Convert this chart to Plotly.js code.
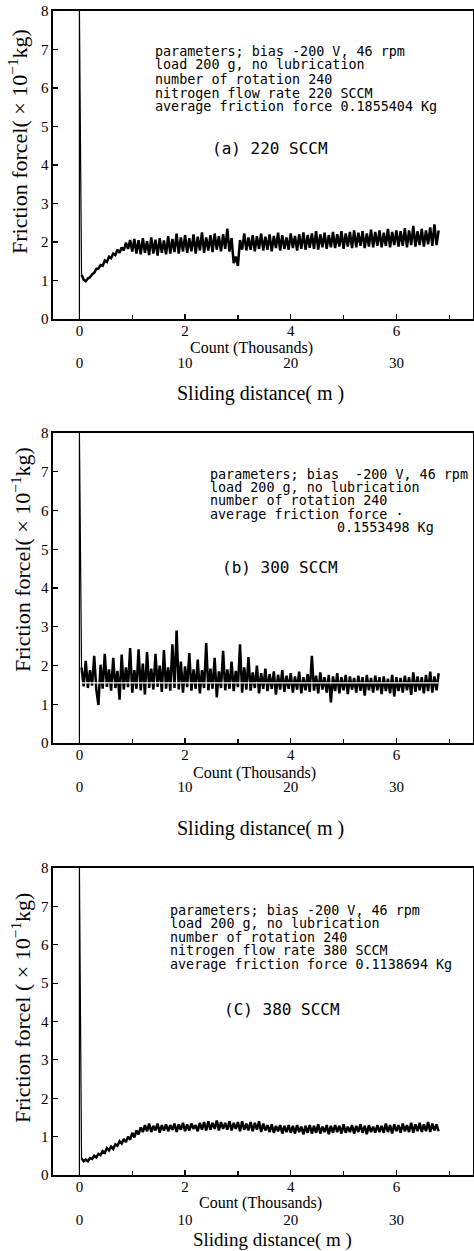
<!DOCTYPE html>
<html>
<head>
<meta charset="utf-8">
<script src="https://cdn.plot.ly/plotly-3.0.1.min.js"></script>
<style>html,body{margin:0;padding:0;background:#fff;}#chart{width:474px;height:1251px;}</style>
</head>
<body>
<div id="chart"></div>
<script>
// ---- data ----
// count axis in thousands, sampled every 0.04 thousand counts starting at 0.04
const countStep = 0.04;
const countTicks = [0, 2, 4, 6];
const countLabels = ['0', '2', '4', '6'];
const distTicks = [0, 10, 20, 30];
const distLabels = ['0', '10', '20', '30'];
const metresPerThousand = 5;

// start-up spike at count 0 (count, friction)
const spikeX = [0, 0];
const spikeY = [0, 8];

// (a) 220 SCCM
const frictionA = [
 1.15,1.02,0.98,1.05,1.08,1.16,1.20,1.30,1.31,1.40,
 1.38,1.52,1.48,1.62,1.58,1.70,1.66,1.80,1.72,1.86,
 1.78,1.98,1.82,2.05,1.75,2.08,1.70,2.05,1.68,2.10,
 1.72,2.02,1.66,2.12,1.70,2.06,1.65,2.10,1.72,2.04,
 1.68,2.15,1.70,2.08,1.74,2.22,1.70,2.12,1.75,2.18,
 1.72,2.10,1.76,2.20,1.70,2.14,1.78,2.25,1.72,2.12,
 1.78,2.18,1.74,2.22,1.80,2.15,1.76,2.20,1.82,2.35,
 1.75,2.10,1.45,1.62,1.38,2.05,1.80,2.22,1.78,2.12,
 1.80,2.18,1.76,2.15,1.82,2.22,1.78,2.14,1.80,2.20,
 1.76,2.16,1.84,2.24,1.78,2.18,1.82,2.12,1.80,2.22,
 1.84,2.16,1.78,2.20,1.82,2.25,1.80,2.18,1.85,2.22,
 1.82,2.28,1.80,2.20,1.86,2.24,1.82,2.18,1.86,2.26,
 1.84,2.20,1.88,2.28,1.82,2.22,1.88,2.26,1.84,2.30,
 1.86,2.24,1.90,2.28,1.84,2.22,1.88,2.32,1.86,2.26,
 1.90,2.30,1.86,2.24,1.90,2.34,1.86,2.26,1.92,2.30,
 1.88,2.28,1.90,2.36,1.86,2.30,1.92,2.42,1.88,2.28,
 1.92,2.34,1.88,2.30,1.94,2.38,1.90,2.46,1.92,2.30
];

// (b) 300 SCCM
const frictionB = [
 1.95,1.46,2.12,1.42,1.88,1.48,2.25,1.38,0.98,2.02,
 1.40,2.30,1.45,1.90,1.35,2.20,1.42,1.86,1.12,2.28,
 1.38,1.95,1.44,2.45,1.30,1.88,1.40,2.42,1.36,2.05,
 1.25,2.35,1.42,1.92,1.38,2.30,1.45,2.00,1.32,2.40,
 1.40,1.95,1.35,2.55,1.42,2.90,1.38,2.10,1.30,1.98,
 1.44,2.32,1.35,1.90,1.40,2.15,1.28,1.88,1.42,2.58,
 1.36,1.92,1.40,2.20,1.18,1.85,1.42,2.38,1.36,1.90,
 1.40,2.10,1.34,1.86,1.44,2.55,1.30,1.95,1.38,2.22,
 1.35,1.82,1.42,2.00,1.28,1.80,1.40,1.92,1.34,1.78,
 1.40,1.85,1.25,1.76,1.38,1.88,1.32,1.74,1.40,1.80,
 1.30,1.72,1.38,1.84,1.28,1.70,1.36,1.78,1.32,2.25,
 1.35,1.74,1.28,1.82,1.38,1.70,1.30,1.76,1.05,1.72,
 1.34,1.80,1.28,1.70,1.36,1.76,1.26,1.72,1.38,1.68,
 1.30,1.74,1.35,1.70,1.22,1.76,1.36,1.68,1.30,1.74,
 1.36,1.70,1.26,1.72,1.34,1.66,1.28,1.76,1.20,1.70,
 1.34,1.68,1.30,1.74,1.36,1.70,1.24,1.82,1.32,1.72,
 1.36,1.70,1.28,1.76,1.34,1.84,1.30,1.72,1.36,1.80
];
// average friction force 0.1553498 kg = 1.553498 x10^-1 kg
const averageB = 1.553498;

// (c) 380 SCCM
const frictionC = [
 0.44,0.36,0.40,0.36,0.44,0.42,0.50,0.46,0.55,0.52,
 0.62,0.58,0.70,0.64,0.74,0.68,0.80,0.76,0.88,0.82,
 0.94,0.86,1.00,0.92,1.10,0.98,1.16,1.06,1.24,1.12,
 1.30,1.14,1.34,1.12,1.28,1.16,1.34,1.10,1.30,1.16,
 1.32,1.14,1.30,1.18,1.34,1.12,1.32,1.18,1.36,1.14,
 1.32,1.16,1.34,1.20,1.30,1.14,1.36,1.18,1.38,1.16,
 1.40,1.18,1.36,1.20,1.42,1.16,1.38,1.20,1.36,1.18,
 1.40,1.16,1.36,1.20,1.38,1.14,1.40,1.18,1.34,1.16,
 1.38,1.14,1.36,1.18,1.40,1.12,1.34,1.16,1.30,1.12,
 1.32,1.10,1.28,1.14,1.30,1.08,1.28,1.12,1.30,1.10,
 1.28,1.08,1.30,1.12,1.26,1.06,1.28,1.10,1.30,1.08,
 1.28,1.10,1.32,1.08,1.26,1.12,1.30,1.06,1.28,1.10,
 1.30,1.12,1.28,1.08,1.32,1.10,1.26,1.12,1.30,1.08,
 1.28,1.12,1.32,1.10,1.28,1.06,1.30,1.12,1.26,1.10,
 1.30,1.12,1.28,1.10,1.34,1.12,1.30,1.08,1.32,1.14,
 1.30,1.10,1.34,1.14,1.30,1.12,1.36,1.10,1.32,1.14,
 1.36,1.12,1.32,1.14,1.38,1.12,1.34,1.16,1.32,1.14
];

const textA = ['parameters; bias -200 V, 46 rpm','load 200 g, no lubrication','number of rotation 240','nitrogen flow rate 220 SCCM','average friction force 0.1855404 Kg'];
const textB = ['parameters; bias  -200 V, 46 rpm','load 200 g, no lubrication','number of rotation 240','average friction force ·'];
const textB2 = '0.1553498 Kg';
const textC = ['parameters; bias -200 V, 46 rpm','load 200 g, no lubrication','number of rotation 240','nitrogen flow rate 380 SCCM','average friction force 0.1138694 Kg'];
const panelLabels = ['(a) 220 SCCM', '(b) 300 SCCM', '(C) 380 SCCM'];
const yTitles = ['Friction forcel( × 10<sup>−1</sup>kg)', 'Friction forcel( × 10<sup>−1</sup>kg)', 'Friction forcel ( × 10<sup>−1</sup>kg)'];

// ---- drawing ----
const W = 474, H = 1251;
const py = p => 1 - p / H;           // pixel row -> paper y
const px = p => p / W;               // pixel col -> paper x
const serif = 'Liberation Serif, Times New Roman, serif';
const mono = 'DejaVu Sans Mono, monospace';
const ink = '#000';

const countRange = [-0.5, 7.45];
const xDom = [px(53), px(473)];

function lineTrace(y, xa, ya) {
  return {type:'scatter', mode:'lines', x0: countStep, dx: countStep, y: y,
          xaxis: xa, yaxis: ya, line:{color:ink, width:2.5}, hoverinfo:'skip'};
}
function spikeTrace(series, xa, ya) {
  return {type:'scatter', mode:'lines', x: spikeX.concat([countStep]), y: spikeY.concat([series[0]]),
          xaxis: xa, yaxis: ya, line:{color:ink, width:1.2}, hoverinfo:'skip'};
}

const traces = [
  spikeTrace(frictionA, 'x', 'y'), lineTrace(frictionA, 'x', 'y'),
  spikeTrace(frictionB, 'x2', 'y2'), lineTrace(frictionB, 'x2', 'y2'),
  {type:'scatter', mode:'lines', x:[countStep, countStep*frictionB.length], y:[averageB, averageB],
   xaxis:'x2', yaxis:'y2', line:{color:'#ffffff', width:1.3}, hoverinfo:'skip'},
  spikeTrace(frictionC, 'x3', 'y3'), lineTrace(frictionC, 'x3', 'y3')
];
// empty traces so the distance axes are drawn
[['x4','y'],['x5','y2'],['x6','y3']].forEach(([xa,ya]) => traces.push({type:'scatter', mode:'markers', x:[null], y:[null], xaxis:xa, yaxis:ya, showlegend:false}));

function countAxis(anchor) {
  return {domain: xDom, anchor: anchor, range: countRange, tickvals: countTicks, ticktext: countLabels,
          ticks:'inside', ticklen:5, tickwidth:1.2, tickcolor:ink, ticklabelstandoff:-3,
          minor:{dtick:1, tick0:0, ticks:'inside', ticklen:4, tickcolor:ink, showgrid:false},
          showline:true, mirror:true, linecolor:ink, linewidth:1.6,
          showgrid:false, zeroline:false, tickfont:{family:serif, size:15, color:ink}};
}
function forceAxis(top, bottom) {
  return {domain:[py(bottom), py(top)], range:[0, 8], dtick:1, tick0:0,
          ticks:'inside', ticklen:5, tickwidth:1.2, tickcolor:ink,
          showline:true, mirror:true, linecolor:ink, linewidth:1.6,
          showgrid:false, zeroline:false, tickfont:{family:serif, size:15, color:ink}};
}
function distAxis(over, posPx) {
  return {overlaying: over, anchor:'free', position: py(posPx), side:'bottom',
          range:[countRange[0]*metresPerThousand, countRange[1]*metresPerThousand],
          tickvals: distTicks, ticktext: distLabels, ticks:'', showline:false, showgrid:false, zeroline:false,
          tickfont:{family:serif, size:15, color:ink}};
}

const ann = [];
function addLines(lines, xa, ya, x0, ys) {
  lines.forEach((t, i) => ann.push({xref:xa, yref:ya, x:x0, y:ys[i], text:t, showarrow:false,
    xanchor:'left', yanchor:'middle', font:{family:mono, size:13.4, color:ink}}));
}
function addText(t, xr, yr, x, y, size, family, opts) {
  ann.push(Object.assign({xref:xr, yref:yr, x:x, y:y, text:t, showarrow:false, xanchor:'center', yanchor:'middle',
    font:{family:family, size:size, color:ink}}, opts || {}));
}

// panel a
addLines(textA, 'x', 'y', 1.40, [6.94, 6.60, 6.23, 5.87, 5.51]);
ann.push({xref:'x', yref:'y', x:2.47, y:4.42, text:panelLabels[0], showarrow:false, xanchor:'left', yanchor:'middle', font:{family:mono, size:16, color:ink}});
addText(yTitles[0], 'paper', 'paper', px(18), py(142), 22, serif, {textangle:-90});
addText('Count (Thousands)', 'paper', 'paper', px(252), py(348), 16, serif);
addText('Sliding distance( m )', 'paper', 'paper', px(260), py(393), 20, serif);

// panel b
addLines(textB, 'x2', 'y2', 2.43, [6.94, 6.59, 6.25, 5.90]);
ann.push({xref:'x2', yref:'y2', x:4.84, y:5.55, text:textB2, showarrow:false, xanchor:'left', yanchor:'middle', font:{family:mono, size:13.4, color:ink}});
ann.push({xref:'x2', yref:'y2', x:2.66, y:4.54, text:panelLabels[1], showarrow:false, xanchor:'left', yanchor:'middle', font:{family:mono, size:16, color:ink}});
addText(yTitles[1], 'paper', 'paper', px(21), py(560), 22, serif, {textangle:-90});
addText('Count (Thousands)', 'paper', 'paper', px(254), py(773), 16, serif);
addText('Sliding distance( m )', 'paper', 'paper', px(260), py(828), 20, serif);

// panel c
addLines(textC, 'x3', 'y3', 1.67, [6.90, 6.56, 6.20, 5.85, 5.49]);
ann.push({xref:'x3', yref:'y3', x:2.69, y:4.32, text:panelLabels[2], showarrow:false, xanchor:'left', yanchor:'middle', font:{family:mono, size:16, color:ink}});
addText(yTitles[2], 'paper', 'paper', px(21), py(1008), 22, serif, {textangle:-90});
addText('Count (Thousands)', 'paper', 'paper', px(260), py(1203), 16, serif);
addText('Sliding distance( m )', 'paper', 'paper', px(272), py(1240), 19, serif);

const layout = {
  width: W, height: H, margin:{l:0, r:0, t:0, b:0},
  paper_bgcolor:'#fff', plot_bgcolor:'#fff', showlegend:false,
  xaxis: countAxis('y'), yaxis: forceAxis(11, 319),
  xaxis2: countAxis('y2'), yaxis2: forceAxis(433, 743),
  xaxis3: countAxis('y3'), yaxis3: forceAxis(868, 1175),
  xaxis4: distAxis('x', 352), xaxis5: distAxis('x2', 776), xaxis6: distAxis('x3', 1209),
  annotations: ann
};
Plotly.newPlot('chart', traces, layout, {staticPlot:true, displayModeBar:false});
</script>
</body>
</html>
